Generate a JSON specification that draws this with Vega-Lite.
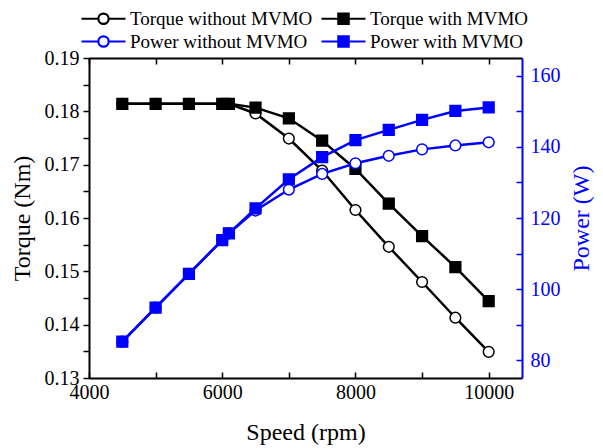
{
  "$schema": "https://vega.github.io/schema/vega-lite/v6.json",
  "width": 433,
  "height": 320,
  "autosize": "none",
  "padding": {"left": 89, "top": 58, "right": 81, "bottom": 70},
  "background": "white",
  "config": {
    "view": {"stroke": null},
    "font": "Liberation Serif",
    "axis": {
      "labelFont": "Liberation Serif",
      "titleFont": "Liberation Serif",
      "labelFontSize": 20,
      "titleFontSize": 24,
      "titleFontWeight": "normal",
      "domainWidth": 2,
      "tickWidth": 1.5,
      "grid": false,
      "domainColor": "black",
      "tickColor": "black",
      "labelColor": "black",
      "titleColor": "black",
      "labelFlush": false,
      "labelOverlap": false
    },
    "legend": {
      "orient": "none",
      "direction": "horizontal",
      "legendX": 2,
      "legendY": -52,
      "columns": 2,
      "columnPadding": 4,
      "rowPadding": 0,
      "padding": 0,
      "symbolSize": 484,
      "symbolStrokeWidth": 2.2,
      "symbolOpacity": 1,
      "labelFont": "Liberation Serif",
      "labelFontSize": 19,
      "labelColor": "black",
      "labelOffset": 14,
      "labelLimit": 400
    }
  },
  "datasets": {
    "torque": [
      {"speed": 4500, "series": "Torque without MVMO", "torque": 0.1814},
      {"speed": 5000, "series": "Torque without MVMO", "torque": 0.1814},
      {"speed": 5500, "series": "Torque without MVMO", "torque": 0.1814},
      {"speed": 6000, "series": "Torque without MVMO", "torque": 0.1814},
      {"speed": 6100, "series": "Torque without MVMO", "torque": 0.1814},
      {"speed": 6500, "series": "Torque without MVMO", "torque": 0.1796},
      {"speed": 7000, "series": "Torque without MVMO", "torque": 0.1749},
      {"speed": 7500, "series": "Torque without MVMO", "torque": 0.1689},
      {"speed": 8000, "series": "Torque without MVMO", "torque": 0.1615},
      {"speed": 8500, "series": "Torque without MVMO", "torque": 0.1546},
      {"speed": 9000, "series": "Torque without MVMO", "torque": 0.148},
      {"speed": 9500, "series": "Torque without MVMO", "torque": 0.1413},
      {"speed": 10000, "series": "Torque without MVMO", "torque": 0.1349},
      {"speed": 4500, "series": "Torque with MVMO", "torque": 0.1814},
      {"speed": 5000, "series": "Torque with MVMO", "torque": 0.1814},
      {"speed": 5500, "series": "Torque with MVMO", "torque": 0.1814},
      {"speed": 6000, "series": "Torque with MVMO", "torque": 0.1814},
      {"speed": 6100, "series": "Torque with MVMO", "torque": 0.1814},
      {"speed": 6500, "series": "Torque with MVMO", "torque": 0.1807},
      {"speed": 7000, "series": "Torque with MVMO", "torque": 0.1787},
      {"speed": 7500, "series": "Torque with MVMO", "torque": 0.1745},
      {"speed": 8000, "series": "Torque with MVMO", "torque": 0.1692},
      {"speed": 8500, "series": "Torque with MVMO", "torque": 0.1627},
      {"speed": 9000, "series": "Torque with MVMO", "torque": 0.1566},
      {"speed": 9500, "series": "Torque with MVMO", "torque": 0.1508},
      {"speed": 10000, "series": "Torque with MVMO", "torque": 0.1444}
    ],
    "power": [
      {"speed": 4500, "series": "Power without MVMO", "power": 85.2},
      {"speed": 5000, "series": "Power without MVMO", "power": 94.8},
      {"speed": 5500, "series": "Power without MVMO", "power": 104.3},
      {"speed": 6000, "series": "Power without MVMO", "power": 113.8},
      {"speed": 6100, "series": "Power without MVMO", "power": 115.7},
      {"speed": 6500, "series": "Power without MVMO", "power": 122.1},
      {"speed": 7000, "series": "Power without MVMO", "power": 128.0},
      {"speed": 7500, "series": "Power without MVMO", "power": 132.4},
      {"speed": 8000, "series": "Power without MVMO", "power": 135.4},
      {"speed": 8500, "series": "Power without MVMO", "power": 137.5},
      {"speed": 9000, "series": "Power without MVMO", "power": 139.3},
      {"speed": 9500, "series": "Power without MVMO", "power": 140.4},
      {"speed": 10000, "series": "Power without MVMO", "power": 141.3},
      {"speed": 4500, "series": "Power with MVMO", "power": 85.2},
      {"speed": 5000, "series": "Power with MVMO", "power": 94.8},
      {"speed": 5500, "series": "Power with MVMO", "power": 104.3},
      {"speed": 6000, "series": "Power with MVMO", "power": 113.8},
      {"speed": 6100, "series": "Power with MVMO", "power": 115.7},
      {"speed": 6500, "series": "Power with MVMO", "power": 122.7},
      {"speed": 7000, "series": "Power with MVMO", "power": 130.9},
      {"speed": 7500, "series": "Power with MVMO", "power": 137.1},
      {"speed": 8000, "series": "Power with MVMO", "power": 141.9},
      {"speed": 8500, "series": "Power with MVMO", "power": 144.8},
      {"speed": 9000, "series": "Power with MVMO", "power": 147.6},
      {"speed": 9500, "series": "Power with MVMO", "power": 150.1},
      {"speed": 10000, "series": "Power with MVMO", "power": 151.1}
    ]
  },
  "layer": [
    {
      "data": {"name": "torque"},
      "encoding": {
        "x": {
          "field": "speed", "type": "quantitative",
          "scale": {"domain": [4000, 10500], "nice": false, "zero": false},
          "axis": {
            "orient": "bottom",
            "values": [4000, 5000, 6000, 7000, 8000, 9000, 10000],
            "format": "d",
            "labelExpr": "datum.value % 2000 === 0 ? datum.label : ''",
            "tickSize": -6,
            "labelPadding": 10,
            "title": "Speed (rpm)",
            "titlePadding": 18
          }
        },
        "y": {
          "field": "torque", "type": "quantitative",
          "scale": {"domain": [0.13, 0.19], "nice": false, "zero": false},
          "axis": {
            "orient": "left",
            "values": [0.13, 0.135, 0.14, 0.145, 0.15, 0.155, 0.16, 0.165, 0.17, 0.175, 0.18, 0.185, 0.19],
            "labelExpr": "abs(datum.value * 100 - round(datum.value * 100)) < 0.01 ? format(datum.value, '.2f') : ''",
            "tickSize": 6,
            "labelPadding": 4,
            "title": "Torque (Nm)",
            "titlePadding": 10
          }
        }
      },
      "layer": [
        {
          "mark": {"type": "line", "color": "black", "strokeWidth": 2.5},
          "encoding": {"detail": {"field": "series", "type": "nominal"}}
        },
        {
          "mark": {"type": "point", "filled": true, "stroke": "black", "strokeWidth": 1.5, "size": 115, "opacity": 1},
          "encoding": {
            "shape": {"field": "series", "type": "nominal", "scale": {"domain": ["Torque without MVMO", "Torque with MVMO", "Power without MVMO", "Power with MVMO"], "range": ["circle", "square", "circle", "square"]}, "legend": null},
            "fill": {"field": "series", "type": "nominal", "scale": {"domain": ["Torque without MVMO", "Torque with MVMO", "Power without MVMO", "Power with MVMO"], "range": ["white", "black", "white", "#0000ff"]}, "legend": null}
          }
        }
      ]
    },
    {
      "data": {"name": "power"},
      "encoding": {
        "x": {
          "field": "speed", "type": "quantitative",
          "scale": {"domain": [4000, 10500], "nice": false, "zero": false},
          "axis": {
            "orient": "top",
            "values": [4000, 5000, 6000, 7000, 8000, 9000, 10000],
            "labels": false,
            "tickSize": -6,
            "title": null
          }
        },
        "y": {
          "field": "power", "type": "quantitative",
          "scale": {"domain": [75, 165], "nice": false, "zero": false},
          "axis": {
            "orient": "right",
            "values": [80, 90, 100, 110, 120, 130, 140, 150, 160],
            "labelExpr": "datum.value % 20 === 0 ? datum.label : ''",
            "tickSize": -6,
            "labelPadding": 14,
            "domainColor": "#0000ff",
            "tickColor": "#0000ff",
            "labelColor": "#0000ff",
            "titleColor": "#0000ff",
            "title": "Power (W)",
            "titleAngle": 270,
            "titlePadding": 33
          }
        }
      },
      "layer": [
        {
          "mark": {"type": "line", "color": "#0000ff", "strokeWidth": 2.5},
          "encoding": {"detail": {"field": "series", "type": "nominal"}}
        },
        {
          "mark": {"type": "point", "filled": true, "stroke": "#0000ff", "strokeWidth": 1.5, "size": 115, "opacity": 1},
          "encoding": {
            "shape": {"field": "series", "type": "nominal", "scale": {"domain": ["Torque without MVMO", "Torque with MVMO", "Power without MVMO", "Power with MVMO"], "range": ["circle", "square", "circle", "square"]}, "legend": null},
            "fill": {"field": "series", "type": "nominal", "scale": {"domain": ["Torque without MVMO", "Torque with MVMO", "Power without MVMO", "Power with MVMO"], "range": ["white", "black", "white", "#0000ff"]}, "legend": null}
          }
        }
      ]
    },
    {
      "data": {"values": []},
      "mark": {"type": "point", "filled": true, "opacity": 1},
      "encoding": {
        "shape": {"field": "series", "type": "nominal", "scale": {"domain": ["Torque without MVMO", "Torque with MVMO", "Power without MVMO", "Power with MVMO"], "range": ["M-2,0H-0.47M0.47,0H2M0.47,0A0.47,0.47,0,1,1,-0.47,0A0.47,0.47,0,1,1,0.47,0Z", "M-2,0H-0.47M0.47,0H2M-0.47,-0.47H0.47V0.47H-0.47Z", "M-2,0H-0.47M0.47,0H2M0.47,0A0.47,0.47,0,1,1,-0.47,0A0.47,0.47,0,1,1,0.47,0Z", "M-2,0H-0.47M0.47,0H2M-0.47,-0.47H0.47V0.47H-0.47Z"]}, "legend": {"title": null}},
        "fill": {"field": "series", "type": "nominal", "scale": {"domain": ["Torque without MVMO", "Torque with MVMO", "Power without MVMO", "Power with MVMO"], "range": ["white", "black", "white", "#0000ff"]}, "legend": {"title": null}},
        "stroke": {"field": "series", "type": "nominal", "scale": {"domain": ["Torque without MVMO", "Torque with MVMO", "Power without MVMO", "Power with MVMO"], "range": ["black", "black", "#0000ff", "#0000ff"]}, "legend": {"title": null}}
      }
    }
  ],
  "resolve": {
    "scale": {"y": "independent", "shape": "independent", "fill": "independent", "stroke": "independent"},
    "axis": {"x": "independent"}
  }
}
